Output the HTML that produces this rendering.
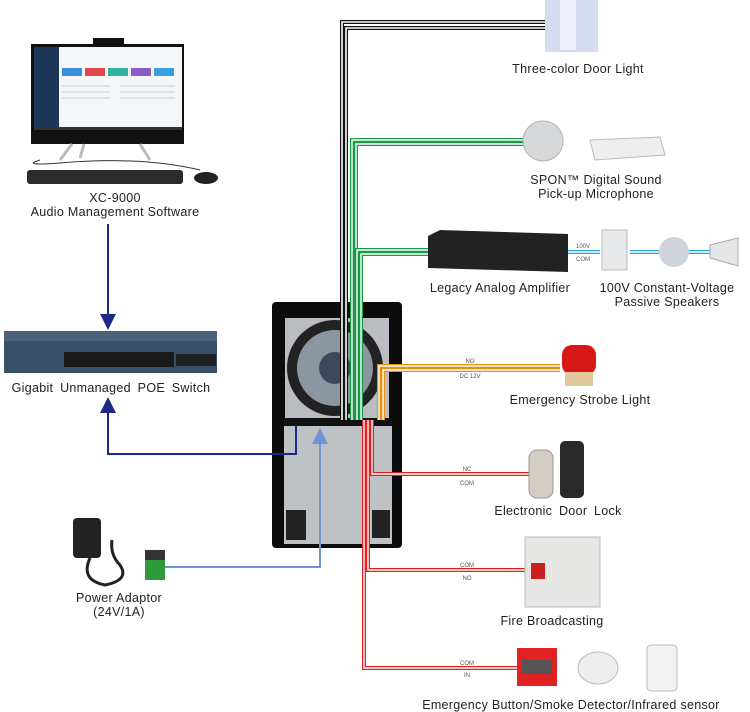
<!DOCTYPE html>
<html><head><meta charset="utf-8"><style>
html,body{margin:0;padding:0;background:#fff;}
svg{display:block;}
text{font-family:"Liberation Sans",sans-serif;fill:#222;}
.l{font-size:12.5px;letter-spacing:0.3px;}
.s{font-size:6px;fill:#555;}
</style></head><body>
<svg width="750" height="712" viewBox="0 0 750 712" xmlns="http://www.w3.org/2000/svg">
<defs>
<marker id="ad" markerWidth="8" markerHeight="8" refX="4" refY="4" orient="auto"><path d="M0,0 L8,4 L0,8z" fill="#1e2a8a"/></marker>
<marker id="al" markerWidth="8" markerHeight="8" refX="4" refY="4" orient="auto"><path d="M0,0 L8,4 L0,8z" fill="#6f95d8"/></marker>
</defs>

<!-- Computer -->
<rect x="93" y="38" width="31" height="7" fill="#111"/>
<rect x="31" y="44" width="153" height="100" fill="#111"/>
<rect x="34" y="47" width="148" height="80" fill="#f4f6f8"/>
<rect x="34" y="47" width="25" height="80" fill="#1d3557"/>
<rect x="62" y="68" width="20" height="8" fill="#3c8fdc"/>
<rect x="85" y="68" width="20" height="8" fill="#e0474c"/>
<rect x="108" y="68" width="20" height="8" fill="#31b5a0"/>
<rect x="131" y="68" width="20" height="8" fill="#8a5cc4"/>
<rect x="154" y="68" width="20" height="8" fill="#3aa0e0"/>
<g stroke="#ccc" stroke-width="1"><line x1="62" y1="86" x2="110" y2="86"/><line x1="62" y1="92" x2="110" y2="92"/><line x1="62" y1="98" x2="110" y2="98"/><line x1="120" y1="86" x2="175" y2="86"/><line x1="120" y1="92" x2="175" y2="92"/><line x1="120" y1="98" x2="175" y2="98"/></g>
<rect x="34" y="127" width="148" height="3" fill="#333"/>
<path d="M72,144 L60,160 M84,144 L80,158 M140,144 L150,160" stroke="#bbb" stroke-width="3"/>
<path d="M40,160 Q20,166 60,163 Q140,156 200,170" stroke="#333" fill="none"/>
<rect x="27" y="170" width="156" height="14" rx="3" fill="#2b2b2b"/>
<ellipse cx="206" cy="178" rx="12" ry="6" fill="#222"/>
<text class="l" x="115" y="202" text-anchor="middle">XC-9000</text>
<text class="l" x="115" y="216" text-anchor="middle">Audio Management Software</text>

<!-- arrow to switch -->
<line x1="108" y1="224" x2="108" y2="322" stroke="#1e2a8a" stroke-width="2" marker-end="url(#ad)"/>

<!-- Switch -->
<rect x="4" y="331" width="213" height="42" fill="#3a5068"/>
<rect x="4" y="331" width="213" height="10" fill="#4b627a"/>
<rect x="64" y="352" width="110" height="15" fill="#1a1a1a"/>
<rect x="176" y="354" width="40" height="12" fill="#222"/>
<text class="l" x="111" y="392" text-anchor="middle" style="word-spacing:3px">Gigabit Unmanaged POE Switch</text>

<!-- Power adaptor -->
<rect x="73" y="518" width="28" height="40" rx="4" fill="#222"/>
<path d="M90,558 Q80,580 105,585 Q130,580 120,565 Q110,555 112,540" stroke="#222" stroke-width="3" fill="none"/>
<rect x="145" y="550" width="20" height="10" fill="#333"/>
<rect x="145" y="560" width="20" height="20" fill="#2e9a3c"/>
<text class="l" x="119" y="602" text-anchor="middle">Power Adaptor</text>
<text class="l" x="119" y="616" text-anchor="middle">(24V/1A)</text>

<!-- Panel -->
<rect x="272" y="302" width="130" height="246" rx="4" fill="#0c0c0c"/>
<rect x="285" y="318" width="104" height="100" fill="#b9bcc0"/>
<circle cx="335" cy="368" r="48" fill="#222"/>
<circle cx="335" cy="368" r="38" fill="#8c96a0"/>
<circle cx="335" cy="368" r="16" fill="#3a4a5c"/>
<rect x="284" y="418" width="108" height="8" fill="#111"/>
<rect x="284" y="426" width="108" height="118" fill="#bfc2c5"/>
<rect x="286" y="510" width="20" height="30" fill="#222"/>
<rect x="372" y="510" width="18" height="28" fill="#222"/>

<!-- dark blue return -->
<polyline points="296,425 296,454 108,454 108,405" fill="none" stroke="#1e2a8a" stroke-width="2" marker-end="url(#ad)"/>
<!-- light blue power -->
<polyline points="165,567 320,567 320,436" fill="none" stroke="#6f95d8" stroke-width="2" marker-end="url(#al)"/>

<!-- Wires -->
<g fill="none">
<polyline points="342,420 342,22 545,22" stroke="#111" stroke-width="4"/>
<polyline points="342,420 342,22 545,22" stroke="#fff" stroke-width="1.6"/>
<polyline points="346,420 346,28 545,28" stroke="#111" stroke-width="4"/>
<polyline points="346,420 346,28 545,28" stroke="#fff" stroke-width="1.6"/>
<polyline points="352,420 352,140 525,140" stroke="#1a9a48" stroke-width="4"/>
<polyline points="352,420 352,140 525,140" stroke="#fff" stroke-width="1.4"/>
<polyline points="356,420 356,144 525,144" stroke="#1a9a48" stroke-width="4"/>
<polyline points="356,420 356,144 525,144" stroke="#fff" stroke-width="1.4"/>
<polyline points="357,420 357,250 430,250" stroke="#1a9a48" stroke-width="4"/>
<polyline points="357,420 357,250 430,250" stroke="#fff" stroke-width="1.4"/>
<polyline points="361,420 361,254 430,254" stroke="#1a9a48" stroke-width="4"/>
<polyline points="361,420 361,254 430,254" stroke="#fff" stroke-width="1.4"/>
<polyline points="379,420 379,366 560,366" stroke="#e8900f" stroke-width="4"/>
<polyline points="379,420 379,366 560,366" stroke="#fff" stroke-width="1.4"/>
<polyline points="383,420 383,370 560,370" stroke="#e8900f" stroke-width="4"/>
<polyline points="383,420 383,370 560,370" stroke="#fff" stroke-width="1.4"/>
<polyline points="372,420 372,474 530,474" stroke="#e02020" stroke-width="4"/>
<polyline points="372,420 372,474 530,474" stroke="#fff" stroke-width="1.4"/>
<polyline points="368,420 368,570 525,570" stroke="#e02020" stroke-width="4"/>
<polyline points="368,420 368,570 525,570" stroke="#fff" stroke-width="1.4"/>
<polyline points="364,420 364,668 517,668" stroke="#e02020" stroke-width="4"/>
<polyline points="364,420 364,668 517,668" stroke="#fff" stroke-width="1.4"/>
<path d="M568,252 L600,252 M630,252 L660,252 M688,252 L710,252" stroke="#2aa0d8" stroke-width="4"/>
<path d="M568,252 L600,252 M630,252 L660,252 M688,252 L710,252" stroke="#fff" stroke-width="1.4"/>
</g>
<text class="s" x="470" y="363" text-anchor="middle">NO</text>
<text class="s" x="470" y="378" text-anchor="middle">DC 12V</text>
<text class="s" x="467" y="471" text-anchor="middle">NC</text>
<text class="s" x="467" y="485" text-anchor="middle">COM</text>
<text class="s" x="467" y="567" text-anchor="middle">COM</text>
<text class="s" x="467" y="580" text-anchor="middle">NO</text>
<text class="s" x="467" y="665" text-anchor="middle">COM</text>
<text class="s" x="467" y="677" text-anchor="middle">IN</text>
<text class="s" x="583" y="248" text-anchor="middle">100V</text>
<text class="s" x="583" y="261" text-anchor="middle">COM</text>

<!-- Door light -->
<rect x="545" y="0" width="53" height="52" fill="#d5dcf0"/>
<rect x="560" y="0" width="16" height="50" fill="#eef1fa"/>
<text class="l" x="578" y="73" text-anchor="middle">Three-color Door Light</text>

<!-- Mic -->
<circle cx="543" cy="141" r="20" fill="#d6d8da" stroke="#b0b2b4"/>
<path d="M590,140 L660,137 L665,155 L595,160z" fill="#eceef0" stroke="#bbb"/>
<text class="l" x="596" y="184" text-anchor="middle">SPON™ Digital Sound</text>
<text class="l" x="596" y="198" text-anchor="middle">Pick-up Microphone</text>

<!-- Amp -->
<path d="M428,236 L440,230 L568,234 L568,272 L428,268z" fill="#222"/>
<text class="l" x="500" y="292" text-anchor="middle">Legacy Analog Amplifier</text>
<rect x="602" y="230" width="25" height="40" fill="#e6e8ea" stroke="#bbb"/>
<circle cx="674" cy="252" r="15" fill="#cfd3da"/>
<path d="M710,245 L738,238 L738,266 L710,258z" fill="#e4e6e8" stroke="#aaa"/>
<text class="l" x="667" y="292" text-anchor="middle">100V Constant-Voltage</text>
<text class="l" x="667" y="306" text-anchor="middle">Passive Speakers</text>

<!-- Strobe -->
<rect x="562" y="345" width="34" height="30" rx="10" fill="#d81818"/>
<rect x="565" y="372" width="28" height="14" fill="#e0c89a"/>
<text class="l" x="580" y="404" text-anchor="middle">Emergency Strobe Light</text>

<!-- Lock -->
<rect x="529" y="450" width="24" height="48" rx="8" fill="#d4cdc4" stroke="#999"/>
<rect x="560" y="441" width="24" height="57" rx="5" fill="#2a2a2a"/>
<text class="l" x="558" y="515" text-anchor="middle" style="word-spacing:3px">Electronic Door Lock</text>

<!-- Fire -->
<rect x="525" y="537" width="75" height="70" fill="#e6e6e4" stroke="#bbb"/>
<rect x="531" y="563" width="14" height="16" fill="#c82020"/>
<text class="l" x="552" y="625" text-anchor="middle">Fire Broadcasting</text>

<!-- Button / smoke / IR -->
<rect x="517" y="648" width="40" height="38" fill="#e02222"/>
<rect x="522" y="660" width="30" height="14" fill="#555"/>
<ellipse cx="598" cy="668" rx="20" ry="16" fill="#eeeeee" stroke="#bbb"/>
<rect x="647" y="645" width="30" height="46" rx="4" fill="#f2f2f2" stroke="#bbb"/>
<text class="l" x="571" y="709" text-anchor="middle">Emergency Button/Smoke Detector/Infrared sensor</text>
</svg>
</body></html>
